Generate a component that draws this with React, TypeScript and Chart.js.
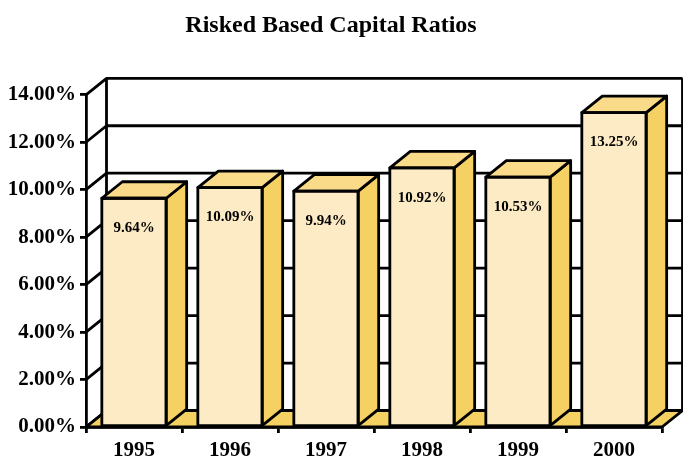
import { useEffect, useRef } from 'react';
import { Chart, registerables } from 'chart.js';

Chart.register(...registerables);

const years = ['1995', '1996', '1997', '1998', '1999', '2000'];
const ratios = [9.64, 10.09, 9.94, 10.92, 10.53, 13.25];
const valueLabels = ['9.64%', '10.09%', '9.94%', '10.92%', '10.53%', '13.25%'];
const titleText = 'Risked Based Capital Ratios';

const FRONT = '#FDEBC5';
const TOP = '#FADB8A';
const SIDE = '#F5D062';
const DX = 20.5;
const DY = 16.5;
const LW = 2.8;
const SERIF = '"Liberation Serif", "Times New Roman", serif';

const threeD = {
  id: 'threeD',
  beforeDraw(chart: any) {
    const { ctx, chartArea } = chart;
    const { left, right, top, bottom } = chartArea;
    const y = chart.scales.y;
    ctx.save();
    ctx.lineWidth = LW;
    ctx.strokeStyle = '#000';
    ctx.lineJoin = 'round';
    // floor
    ctx.beginPath();
    ctx.moveTo(left, bottom);
    ctx.lineTo(right, bottom);
    ctx.lineTo(right + DX, bottom - DY);
    ctx.lineTo(left + DX, bottom - DY);
    ctx.closePath();
    ctx.fillStyle = SIDE;
    ctx.fill();
    ctx.stroke();
    // grid lines on side wall and back wall
    for (const t of y.ticks) {
      const py = y.getPixelForValue(t.value);
      ctx.beginPath();
      ctx.moveTo(left, py);
      ctx.lineTo(left + DX, py - DY);
      ctx.lineTo(right + DX, py - DY);
      ctx.stroke();
    }
    ctx.beginPath();
    ctx.moveTo(left + DX, top - DY);
    ctx.lineTo(left + DX, bottom - DY);
    ctx.stroke();
    ctx.beginPath();
    ctx.moveTo(right + DX, top - DY);
    ctx.lineTo(right + DX, bottom - DY);
    ctx.stroke();
    ctx.restore();
  },
  afterDatasetsDraw(chart: any) {
    const { ctx } = chart;
    const meta = chart.getDatasetMeta(0);
    ctx.save();
    ctx.lineWidth = LW;
    ctx.strokeStyle = '#000';
    ctx.lineJoin = 'round';
    meta.data.forEach((el: any, i: number) => {
      const { x, y, base, width } = el.getProps(['x', 'y', 'base', 'width'], true);
      const l = x - width / 2;
      const r = x + width / 2;
      // side face
      ctx.beginPath();
      ctx.moveTo(r, y);
      ctx.lineTo(r + DX, y - DY);
      ctx.lineTo(r + DX, base - DY);
      ctx.lineTo(r, base);
      ctx.closePath();
      ctx.fillStyle = SIDE;
      ctx.fill();
      ctx.stroke();
      // top face
      ctx.beginPath();
      ctx.moveTo(l, y);
      ctx.lineTo(l + DX, y - DY);
      ctx.lineTo(r + DX, y - DY);
      ctx.lineTo(r, y);
      ctx.closePath();
      ctx.fillStyle = TOP;
      ctx.fill();
      ctx.stroke();
      // front face outline
      ctx.strokeRect(l, y, width, base - y);
      // value label
      ctx.fillStyle = '#000';
      ctx.font = `bold 15px ${SERIF}`;
      ctx.textAlign = 'center';
      ctx.textBaseline = 'middle';
      ctx.fillText(valueLabels[i], x, y + 30);
    });
    ctx.restore();
  },
};

export default function App() {
  const ref = useRef<HTMLCanvasElement>(null);
  useEffect(() => {
    if (!ref.current) return;
    const tickFont = { family: SERIF, size: 21, weight: 'bold' as const };
    const chart = new Chart(ref.current, {
      type: 'bar',
      data: {
        labels: years,
        datasets: [
          {
            data: ratios,
            backgroundColor: FRONT,
            borderWidth: 0,
            barPercentage: 0.67,
            categoryPercentage: 1,
          },
        ],
      },
      options: {
        responsive: false,
        devicePixelRatio: 1,
        animation: false,
        layout: { padding: { left: 0, right: 21, top: 0, bottom: 0 } },
        plugins: {
          legend: { display: false },
          tooltip: { enabled: false },
          title: {
            display: true,
            text: titleText,
            color: '#000',
            font: { family: SERIF, size: 24, weight: 'bold' },
            padding: { top: 11.5, bottom: 54.5 },
          },
        },
        scales: {
          x: {
            grid: {
              display: true,
              drawOnChartArea: false,
              drawTicks: true,
              tickLength: 6,
              color: '#000',
              lineWidth: LW,
              offset: true,
            },
            border: { display: true, color: '#000', width: LW },
            ticks: { font: tickFont, color: '#000', padding: 5, maxRotation: 0, autoSkip: false },
            afterFit: (s: any) => {
              s.height = 32;
            },
          },
          y: {
            min: 0,
            max: 14,
            ticks: {
              stepSize: 2,
              font: tickFont,
              color: '#000',
              padding: 4,
              callback: (v: any) => Number(v).toFixed(2) + '%',
            },
            grid: {
              drawOnChartArea: false,
              drawTicks: true,
              tickLength: 6,
              color: '#000',
              lineWidth: LW,
            },
            border: { display: true, color: '#000', width: LW },
            afterFit: (s: any) => {
              s.width = 86;
            },
          },
        },
      },
      plugins: [threeD],
    });
    return () => chart.destroy();
  }, []);
  return (
    <canvas
      ref={ref}
      width={683}
      height={459}
      style={{ position: 'absolute', left: 0, top: 0, display: 'block' }}
    />
  );
}
